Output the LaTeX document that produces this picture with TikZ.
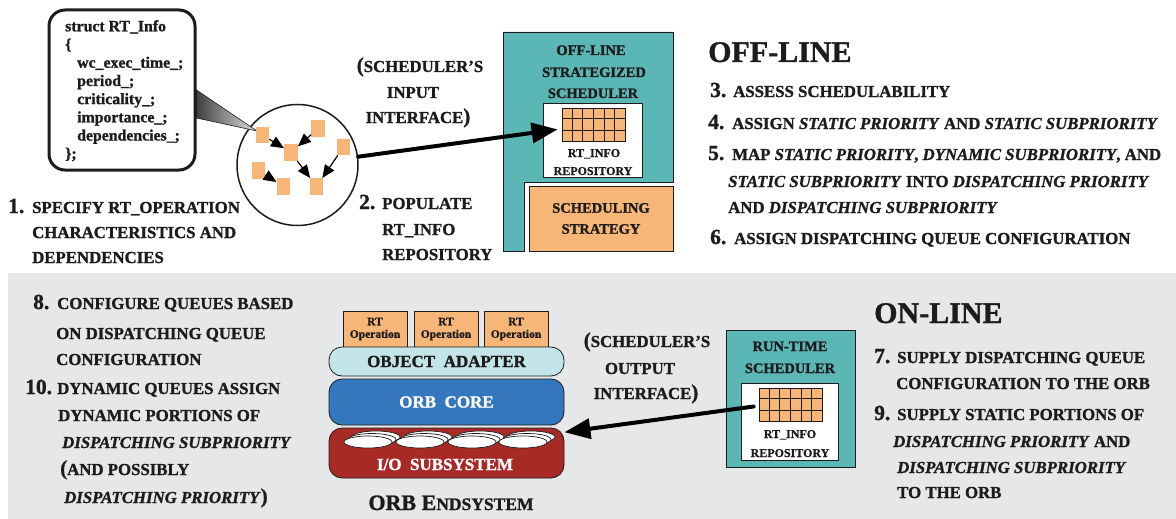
\documentclass[tikz,border=0pt]{standalone}
\usepackage{fontspec}
\setmainfont{Liberation Serif}[BoldFeatures={FakeBold=1.2},BoldItalicFeatures={FakeBold=1.2}]
\usetikzlibrary{arrows.meta,calc}

\definecolor{schedteal}{HTML}{5BB7B5}
\definecolor{oporange}{HTML}{F5B678}
\definecolor{bggray}{HTML}{E6E7E8}
\definecolor{adaptercyan}{HTML}{C3E5E9}
\definecolor{coreblue}{HTML}{3577BD}
\definecolor{iored}{HTML}{A82A26}
\definecolor{ink}{HTML}{1E1B1C}

% type sizes
\newcommand\bodyfont{\fontsize{16.8}{20}\selectfont\bfseries}
\newcommand\stepno[2][23pt]{\makebox[#1][l]{\fontsize{21.5}{21.5}\selectfont #2}}
\newcommand\term[1]{\textit{#1}}
\newcommand\bigparen[1]{{\fontsize{21}{21}\selectfont #1}}

\begin{document}
\begin{tikzpicture}[x=1pt,y=-1pt,
  every node/.style={text=ink},
  t/.style={anchor=base west, inner sep=0pt, font=\bodyfont},
  tc/.style={anchor=base, inner sep=0pt, font=\bodyfont},
  boxtitle/.style={anchor=base, inner sep=0pt, font=\fontsize{14.5}{16}\selectfont\bfseries},
  repolabel/.style={anchor=base, inner sep=0pt, font=\fontsize{12}{14}\selectfont\bfseries},
  heading/.style={anchor=base west, inner sep=0pt, font=\fontsize{30}{30}\selectfont\bfseries},
  opsq/.style={fill=oporange, minimum width=13.5pt, minimum height=16.5pt, inner sep=0pt},
  darr/.style={-{Triangle[length=13pt,width=11pt]}, line width=1.2pt},
  bigarr/.style={-{Triangle[length=26pt,width=20pt]}, line width=4pt, line cap=round},
  gridbox/.style={draw=ink, line width=0.8pt, fill=oporange, minimum width=63pt, minimum height=33pt, inner sep=0pt},
  repobox/.style={draw=ink, line width=0.8pt, fill=white, inner sep=0pt},
  layer/.style={draw=ink, line width=0.8pt, rounded corners=13pt, minimum width=235pt, inner sep=0pt},
  disk/.style={draw=ink, line width=0.7pt, fill=white},
  opbox/.style={draw=ink, line width=0.8pt, fill=oporange, minimum width=64pt, minimum height=36pt, inner sep=0pt,
    align=center, font=\fontsize{11.5}{12.5}\selectfont\bfseries},
]
\useasboundingbox (0,0) rectangle (1176,519);

% on-line band
\fill[bggray] (8,273) rectangle (1176,519);

% ---------- RT_Info structure and operation graph ----------
\node[draw=ink, line width=3pt, rounded corners=16pt, minimum width=146pt, minimum height=160pt, inner sep=0pt]
  (info) at (122,90) {};
\node[anchor=north west, inner sep=0pt, align=left, font=\fontsize{15.8}{18.2}\selectfont\bfseries]
  (infotext) at (65,20) {struct RT\_Info\\ \{\\ \hspace*{12pt}wc\_exec\_time\_;\\ \hspace*{12pt}period\_;\\
  \hspace*{12pt}criticality\_;\\ \hspace*{12pt}importance\_;\\ \hspace*{12pt}dependencies\_;\\ \};};

\node[draw=ink, circle, line width=1.5pt, minimum size=121pt, inner sep=0pt, fill=white] (circ) at (297.5,165) {};
\coordinate (tip) at (257,131);
\draw[draw=ink, line width=0.6pt, left color=black!75, right color=black!12]
  (info.east |- 0,90) -- (tip) -- (info.east |- 0,118) -- cycle;

\node[opsq] (q1) at (262.5,135) {};
\node[opsq] (q2) at (291,152.5) {};
\node[opsq] (q3) at (318,128.5) {};
\node[opsq] (q4) at (343.5,147) {};
\node[opsq] (q5) at (258.5,170.5) {};
\node[opsq] (q6) at (283.5,186.5) {};
\node[opsq] (q7) at (316.5,186.5) {};
\draw[darr] (q1) -- (q2);
\draw[darr] (q3) -- (q2);
\draw[darr] (q2) -- (q7);
\draw[darr] (q4) -- (q7);
\draw[darr] (q5) -- (q6);

\node[t] (s1a) at (8,213) {\stepno[24pt]{1.}SPECIFY RT\_OPERATION};
\node[t] (s1b) at (32,238) {CHARACTERISTICS AND};
\node[t] (s1c) at (32,263) {DEPENDENCIES};

\node[t] (s2a) at (359,209) {\stepno{2.}POPULATE};
\node[t] (s2b) at (382,235) {RT\_INFO};
\node[t] (s2c) at (382,260) {REPOSITORY};

\node[tc] (in1) at (420,72) {\bigparen{(}SCHEDULER'S};
\node[tc] (in2) at (413,98) {INPUT};
\node[tc] (in3) at (418,123) {INTERFACE\bigparen{)}};

% ---------- off-line strategized scheduler ----------
\draw[draw=ink, line width=0.8pt, fill=schedteal]
  (503,32) -- (673,32) -- (673,182) -- (524,182) -- (524,251) -- (503,251) -- cycle;
\node[boxtitle] (ot1) at (591,55) {OFF-LINE};
\node[boxtitle] (ot2) at (594,77) {STRATEGIZED};
\node[boxtitle] (ot3) at (593,98) {SCHEDULER};
\node[repobox, minimum width=99pt, minimum height=74pt] (repo1) at (592.5,140) {};
\node[gridbox] (grid1) at (593.5,124.5) {};
\foreach \i in {1,...,5}
  \draw[ink, line width=0.8pt] ($(grid1.north west)!\i/6!(grid1.north east)$) -- ($(grid1.south west)!\i/6!(grid1.south east)$);
\foreach \i in {1,2}
  \draw[ink, line width=0.8pt] ($(grid1.north west)!\i/3!(grid1.south west)$) -- ($(grid1.north east)!\i/3!(grid1.south east)$);
\node[repolabel] (r1a) at (594,157) {RT\_INFO};
\node[repolabel] (r1b) at (593,175) {REPOSITORY};
\node[draw=ink, line width=0.8pt, fill=oporange, minimum width=144pt, minimum height=65pt, inner sep=0pt,
  align=center, font=\fontsize{14.5}{21}\selectfont\bfseries] (strat) at (601,218.5) {SCHEDULING\\STRATEGY};

\draw[bigarr, shorten >=4pt] (circ) -- (grid1);

% ---------- off-line steps ----------
\node[heading] (offh) at (708,62) {OFF-LINE};
\node[t] (s3) at (710,97) {\stepno{3.}ASSESS SCHEDULABILITY};
\node[t] (s4) at (708,129) {\stepno[24pt]{4.}ASSIGN \term{STATIC PRIORITY} AND \term{STATIC SUBPRIORITY}};
\node[t] (s5a) at (708,160) {\stepno[24pt]{5.}MAP \term{STATIC PRIORITY}, \term{DYNAMIC SUBPRIORITY}, AND};
\node[t] (s5b) at (728,187) {\term{STATIC SUBPRIORITY} INTO \term{DISPATCHING PRIORITY}};
\node[t] (s5c) at (728,213) {AND \term{DISPATCHING SUBPRIORITY}};
\node[t] (s6) at (710,244) {\stepno[24pt]{6.}ASSIGN DISPATCHING QUEUE CONFIGURATION};

% ---------- ORB endsystem ----------
\node[opbox] (op1) at (375,329) {RT\\Operation};
\node[opbox] (op2) at (446,329) {RT\\Operation};
\node[opbox] (op3) at (516,329) {RT\\Operation};
\node[layer, fill=adaptercyan, minimum height=29pt, font=\fontsize{17}{17}\selectfont\bfseries]
  (oa) at (446.5,361.5) {OBJECT\ \ ADAPTER};
\node[layer, fill=coreblue, minimum height=46pt, text=white, font=\fontsize{17}{17}\selectfont\bfseries]
  (core) at (446.5,402) {ORB\ \ CORE};
\node[layer, fill=iored, minimum height=50pt] (io) at (446.5,453) {};
\foreach \layer/\dx/\dy in {2/8/-5, 1/4/-2.5, 0/0/0}
  \foreach \cx in {368,420,472,523}
    \draw[disk] (\cx+\dx,442+\dy) ellipse [x radius=24, y radius=6];
\node[tc, text=white, font=\fontsize{17}{17}\selectfont\bfseries] (iol) at (445,470) {I/O\ \ SUBSYSTEM};
\node[tc] (endsys) at (451,510) {{\fontsize{22}{22}\selectfont ORB E}{\fontsize{17.5}{17.5}\selectfont NDSYSTEM}};

% ---------- run-time scheduler ----------
\node[draw=ink, line width=0.8pt, fill=schedteal, minimum width=129pt, minimum height=137pt, inner sep=0pt]
  (rts) at (790.5,398.5) {};
\node[boxtitle] (rt1) at (790,351) {RUN-TIME};
\node[boxtitle] (rt2) at (790,373) {SCHEDULER};
\node[repobox, minimum width=97pt, minimum height=77pt] (repo2) at (789.5,421.5) {};
\node[gridbox] (grid2) at (790.5,404.5) {};
\foreach \i in {1,...,5}
  \draw[ink, line width=0.8pt] ($(grid2.north west)!\i/6!(grid2.north east)$) -- ($(grid2.south west)!\i/6!(grid2.south east)$);
\foreach \i in {1,2}
  \draw[ink, line width=0.8pt] ($(grid2.north west)!\i/3!(grid2.south west)$) -- ($(grid2.north east)!\i/3!(grid2.south east)$);
\node[repolabel] (r2a) at (790,438) {RT\_INFO};
\node[repolabel] (r2b) at (790,457) {REPOSITORY};

\draw[bigarr] ($(grid2.west)+(-5,2)$) -- (io.10);

\node[tc] (out1) at (647,347) {\bigparen{(}SCHEDULER'S};
\node[tc] (out2) at (640,374) {OUTPUT};
\node[tc] (out3) at (646,399) {INTERFACE\bigparen{)}};

% ---------- on-line steps ----------
\node[t] (s8a) at (33,309) {\stepno[24pt]{8.}CONFIGURE QUEUES BASED};
\node[t] (s8b) at (56,339) {ON DISPATCHING QUEUE};
\node[t] (s8c) at (56,365) {CONFIGURATION};
\node[t] (s10a) at (25,394) {\stepno[32pt]{10.}DYNAMIC QUEUES ASSIGN};
\node[t] (s10b) at (58,421) {DYNAMIC PORTIONS OF};
\node[t] (s10c) at (62,448) {\term{DISPATCHING SUBPRIORITY}};
\node[t] (s10d) at (60,475) {\bigparen{(}AND POSSIBLY};
\node[t] (s10e) at (64,503) {\term{DISPATCHING PRIORITY}\bigparen{)}};

\node[heading] (onh) at (874,323) {ON-LINE};
\node[t] (s7a) at (874,363) {\stepno{7.}SUPPLY DISPATCHING QUEUE};
\node[t] (s7b) at (896,389) {CONFIGURATION TO THE ORB};
\node[t] (s9a) at (874,420) {\stepno{9.}SUPPLY STATIC PORTIONS OF};
\node[t] (s9b) at (893,447) {\term{DISPATCHING PRIORITY} AND};
\node[t] (s9c) at (897,473) {\term{DISPATCHING SUBPRIORITY}};
\node[t] (s9d) at (897,498) {TO THE ORB};
\end{tikzpicture}
\end{document}
